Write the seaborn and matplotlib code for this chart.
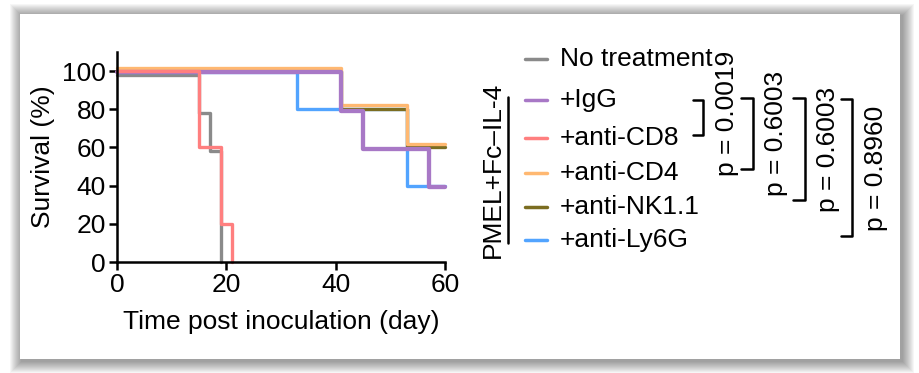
import matplotlib
matplotlib.use("Agg")
import matplotlib.pyplot as plt
from matplotlib.lines import Line2D
from matplotlib.patches import Rectangle
import pandas as pd
import seaborn as sns

# survival curves (Kaplan-Meier steps)
groups = ["No treatment", "+IgG", "+anti-CD8", "+anti-CD4", "+anti-NK1.1", "+anti-Ly6G"]
colors = ["#8a8a8a", "#a878c6", "#ff7f7f", "#ffb871", "#7b6d21", "#52a4ff"]

days_none = [0, 15, 17, 19]
surv_none = [98, 78, 58, 0]
days_igg = [0, 41, 45, 57, 60]
surv_igg = [99.3, 79.3, 59.3, 39.3, 39.3]
days_cd8 = [0, 15, 19, 21]
surv_cd8 = [100, 60, 20, 0]
days_cd4 = [0, 41, 53, 60]
surv_cd4 = [101.5, 82, 62, 62]
days_nk = [0, 41, 53, 60]
surv_nk = [100, 80, 60, 60]
days_ly6g = [0, 33, 53, 60]
surv_ly6g = [99.5, 80, 40, 40]

p_values = ["p = 0.0019", "p = 0.6003", "p = 0.6003", "p = 0.8960"]
treatment_label = "PMEL+Fc\u2013IL-4"

curves = {
    "No treatment": (days_none, surv_none),
    "+IgG": (days_igg, surv_igg),
    "+anti-CD8": (days_cd8, surv_cd8),
    "+anti-CD4": (days_cd4, surv_cd4),
    "+anti-NK1.1": (days_nk, surv_nk),
    "+anti-Ly6G": (days_ly6g, surv_ly6g),
}
rows = []
for g, (d, s) in curves.items():
    for x, y in zip(d, s):
        rows.append({"group": g, "day": x, "survival": y})
df = pd.DataFrame(rows)
palette = dict(zip(groups, colors))

sns.set_style("ticks")
plt.rcParams["font.family"] = ["Liberation Sans", "DejaVu Sans"]
plt.rcParams["text.color"] = "black"
plt.rcParams["axes.labelcolor"] = "black"
plt.rcParams["axes.edgecolor"] = "black"
FS = 19

W, H = 920, 373
fig = plt.figure(figsize=(W / 100, H / 100), dpi=100)
fig.patch.set_facecolor("white")


def fx(x):
    return x / W


def fy(y):
    return 1 - y / H


# framed panel with soft drop shadow
bx0, by0, bx1, by1 = 20, 14, 900, 359
for i in range(1, 13):
    fig.patches.append(Rectangle((fx(bx0 - i + 2), fy(by1 + i + 2)), (bx1 - bx0 + 2 * i) / W,
                                 (by1 - by0 + 2 * i) / H, transform=fig.transFigure,
                                 facecolor="black", edgecolor="none", alpha=0.035, zorder=-20))
fig.patches.append(Rectangle((fx(bx0), fy(by1)), (bx1 - bx0) / W, (by1 - by0) / H,
                             transform=fig.transFigure, facecolor="white", edgecolor="none",
                             zorder=-10))

ax = fig.add_axes([fx(117), fy(262), (445 - 117) / W, (262 - 52) / H])
ax.patch.set_alpha(0)

draw_order = ["No treatment", "+anti-Ly6G", "+anti-NK1.1", "+anti-CD4", "+IgG", "+anti-CD8"]
sns.lineplot(data=df, x="day", y="survival", hue="group", hue_order=draw_order,
             palette=palette, estimator=None, sort=False, drawstyle="steps-post",
             lw=2.4, legend=False, ax=ax)
for line, g in zip(ax.lines, draw_order):
    if g == "+IgG":
        line.set_linewidth(3.1)
    line.set_clip_on(False)

ax.set_xlim(0, 60)
ax.set_ylim(0, 110)
ax.set_xticks([0, 20, 40, 60])
ax.set_yticks([0, 20, 40, 60, 80, 100])
sns.despine(ax=ax)
for sp in ["left", "bottom"]:
    ax.spines[sp].set_linewidth(1.8)
    ax.spines[sp].set_color("black")
ax.tick_params(length=6, width=1.8, labelsize=FS, pad=2, colors="black")
ax.set_xlabel("Time post inoculation (day)", fontsize=FS)
ax.set_ylabel("Survival (%)", fontsize=FS)
ax.xaxis.set_label_coords(0.5, -0.23)
ax.yaxis.set_label_coords(-0.19, 0.5)

# legend drawn by hand to follow the original spacing
legend_y = [59, 100, 138, 173, 207, 240]
for g, y in zip(groups, legend_y):
    fig.add_artist(Line2D([fx(525), fx(547)], [fy(y), fy(y)], transform=fig.transFigure,
                          color=palette[g], lw=2.5))
    fig.text(fx(560), fy(y), g, fontsize=FS, ha="left", va="center")

fig.text(fx(493), fy(170), treatment_label, fontsize=FS, rotation=90, ha="center", va="center")
fig.add_artist(Line2D([fx(508), fx(508)], [fy(97), fy(243)], transform=fig.transFigure,
                      color="black", lw=1.8))

# comparison brackets
brackets = [(693, 703, 100, 135), (741, 753, 98, 169), (793, 805, 98, 200), (841, 852, 99, 236)]
text_pos = [(727, 113), (776, 133), (828, 149), (876, 168)]
for (xl, xv, yt, yb), (tx, ty), p in zip(brackets, text_pos, p_values):
    fig.add_artist(Line2D([fx(xl), fx(xv), fx(xv), fx(xl)], [fy(yt), fy(yt), fy(yb), fy(yb)],
                          transform=fig.transFigure, color="black", lw=1.8))
    fig.text(fx(tx), fy(ty), p, fontsize=FS, rotation=90, ha="center", va="center")

fig.savefig("out.png", dpi=100)
